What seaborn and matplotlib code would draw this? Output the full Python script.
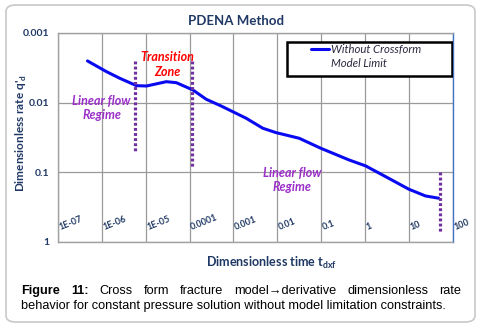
import numpy as np
import pandas as pd
import matplotlib
matplotlib.use("Agg")
import matplotlib.pyplot as plt
import matplotlib.transforms as mtransforms
from matplotlib.patches import FancyBboxPatch, Rectangle
from matplotlib.lines import Line2D
import seaborn as sns

# ---------------- data ----------------
t_dxf = [4.7e-7, 1.28e-6, 2.57e-6, 6.15e-6, 1.04e-5, 2.95e-5, 5.0e-5, 1.19e-4,
         2.4e-4, 5.25e-4, 1.95e-3, 4.68e-3, 9.3e-3, 0.0316, 0.0984, 0.433, 1.04,
         2.95, 10.0, 24.0, 47.9]
q_d = [0.00252, 0.0036, 0.00448, 0.00571, 0.00578, 0.00501, 0.00518, 0.00659,
       0.00897, 0.0112, 0.0168, 0.0234, 0.027, 0.0326, 0.0454, 0.0668, 0.0815,
       0.116, 0.176, 0.22, 0.237]
series_name = "Without Crossform"
series_name2 = "Model Limit"

marker_x = [5.8e-6, 1.13e-4, 52.0]
marker_y0 = [0.0025, 0.0025, 0.10]
marker_y1 = [0.051, 0.083, 0.72]

x_ticks = [1e-7, 1e-6, 1e-5, 1e-4, 1e-3, 1e-2, 1e-1, 1, 10, 100]
x_tick_labels = ["1E-07", "1E-06", "1E-05", "0.0001", "0.001", "0.01", "0.1", "1", "10", "100"]
y_ticks = [0.001, 0.01, 0.1, 1]
y_tick_labels = ["0.001", "0.01", "0.1", "1"]

notes = [("Transition\nZone", 10**-4.50, 10**-2.547, "#FF0000"),
         ("Linear flow\nRegime", 10**-6.007, 10**-1.922, "#9B30C8"),
         ("Linear flow\nRegime", 10**-1.659, 10**-0.888, "#9B30C8")]

title = "PDENA Method"
xlabel = "Dimensionless time t$_{\\mathregular{dxf}}$"
ylabel = "Dimensionless rate q'$_{\\mathregular{d}}$"
caption_bold = "Figure 11:"
caption_line1 = "Cross form fracture model\u2192derivative dimensionless rate"
caption_line2 = "behavior for constant pressure solution without model limitation constraints."

# ---------------- style ----------------
sns.set_style("white")
plt.rcParams["font.family"] = ["Lato", "DejaVu Sans"]
navy = "#1F3864"

W, H = 484, 325
fig = plt.figure(figsize=(W / 100, H / 100), dpi=100)
fig.patch.set_facecolor("white")

x0p, x1p, y0p, y1p = 58, 452.7, 33, 241.7
ax = fig.add_axes([x0p / W, 1 - y1p / H, (x1p - x0p) / W, (y1p - y0p) / H])

df = pd.DataFrame({"t": t_dxf, "q": q_d})
sns.lineplot(data=df, x="t", y="q", ax=ax, color="#0A0AF0", linewidth=2.2, sort=False)

ax.set_xscale("log")
ax.set_yscale("log")
ax.set_xlim(1e-7, 100)
ax.set_ylim(1, 0.001)

# dotted markers
for xm, ya, yb in zip(marker_x, marker_y0, marker_y1):
    ax.plot([xm, xm], [ya, yb], color="#7030A0", linewidth=2.3,
            linestyle=(0, (0.9, 0.7)), dash_capstyle="butt", zorder=3)

ax.set_xticks(x_ticks)
ax.set_xticklabels(x_tick_labels)
ax.set_yticks(y_ticks)
ax.set_yticklabels(y_tick_labels)
ax.minorticks_off()

ax.tick_params(axis="x", length=0, pad=-7, labelsize=6.5, labelcolor=navy)
shift = mtransforms.ScaledTranslation(3 / 100, 0, fig.dpi_scale_trans)
for lab in ax.get_xticklabels():
    lab.set_rotation(22)
    lab.set_ha("left")
    lab.set_va("bottom")
    lab.set_rotation_mode("anchor")
    lab.set_fontweight("bold")
    lab.set_transform(lab.get_transform() + shift)
ax.tick_params(axis="y", length=4, width=0.9, color="#909090", pad=2,
               labelsize=7.5, labelcolor=navy)
for lab in ax.get_yticklabels():
    lab.set_fontweight("bold")

for side in ["left", "bottom", "top"]:
    ax.spines[side].set_color("#A0A0A0")
    ax.spines[side].set_linewidth(1.0)
ax.spines["right"].set_color("#4472C4")
ax.spines["right"].set_linewidth(1.0)

# grid (after tick params)
ax.xaxis.grid(True, which="major", color="#9A9A9A", linewidth=0.9)
ax.yaxis.grid(True, which="major", color="#9A9A9A", linewidth=0.9)
ax.set_axisbelow(True)

ax.set_xlabel(xlabel, fontsize=9, fontweight="bold", color=navy)
ax.xaxis.set_label_coords(0.541, -0.062)
ax.set_ylabel(ylabel, fontsize=8.5, fontweight="bold", color=navy)
ax.yaxis.set_label_coords(-0.073, 0.52)

for txt, xv, yv, col in notes:
    ax.text(xv, yv, txt, color=col, fontsize=9, fontweight="bold", fontstyle="italic",
            ha="center", va="center", linespacing=1.25, zorder=4)

# legend
handles = [Line2D([], [], color="#0A0AF0", linewidth=2.2),
           Line2D([], [], color="none", linewidth=0)]
leg = ax.legend(handles, [series_name, series_name2], loc="upper left",
                bbox_to_anchor=((308 - x0p) / (x1p - x0p), (y1p - 40.5) / (y1p - y0p)),
                frameon=False, fontsize=8.2, handlelength=1.55, handletextpad=0.15,
                labelspacing=0.3, borderpad=0.3, borderaxespad=0)
for t in leg.get_texts():
    t.set_fontstyle("italic")
    t.set_color("#2A2A40")
ax.add_patch(Rectangle(((287 - x0p) / (x1p - x0p), (y1p - 75.7) / (y1p - y0p)),
                       (451.5 - 287) / (x1p - x0p), (75.7 - 41.7) / (y1p - y0p),
                       transform=ax.transAxes, fill=True, facecolor="white",
                       edgecolor="black", linewidth=1.8, zorder=5))
leg.set_zorder(6)

# title
fig.text(236 / W, 1 - 21 / H, title, fontsize=9.5, fontweight="bold", color=navy,
         ha="center", va="center")

# border
fig.patches.append(FancyBboxPatch((6 / W, 3 / H), (475 - 6) / W, (320 - 3) / H,
                                  boxstyle="round,pad=0,rounding_size=0.02",
                                  transform=fig.transFigure, fill=False,
                                  edgecolor="#C8C8C8", linewidth=1.2))

# caption with justification
cap_font = ["Liberation Sans", "DejaVu Sans"]
fig.canvas.draw()
r = fig.canvas.get_renderer()
probe = fig.text(0, 0, caption_line2, fontsize=9, family=cap_font)
wpx = probe.get_window_extent(r).width
probe.remove()
fs = 9 * (448 - 21) / wpx

x_left, x_right = 21, 461.5
y_l1 = 1 - 294 / H
y_l2 = 1 - 309 / H
words = [(w, "bold") for w in caption_bold.split()] + [(w, "normal") for w in caption_line1.split()]
objs = []
for w, fw in words:
    objs.append(fig.text(0, y_l1, w, fontsize=fs, fontweight=fw, family=cap_font,
                         ha="left", va="baseline", color="black"))
widths = [o.get_window_extent(r).width for o in objs]
gap = (x_right - x_left - sum(widths)) / (len(objs) - 1)
xp = x_left
for o, w in zip(objs, widths):
    o.set_x(xp / W)
    xp += w + gap
fig.text(x_left / W, y_l2, caption_line2, fontsize=fs, family=cap_font,
         ha="left", va="baseline", color="black")

fig.savefig("out.png", dpi=100)
